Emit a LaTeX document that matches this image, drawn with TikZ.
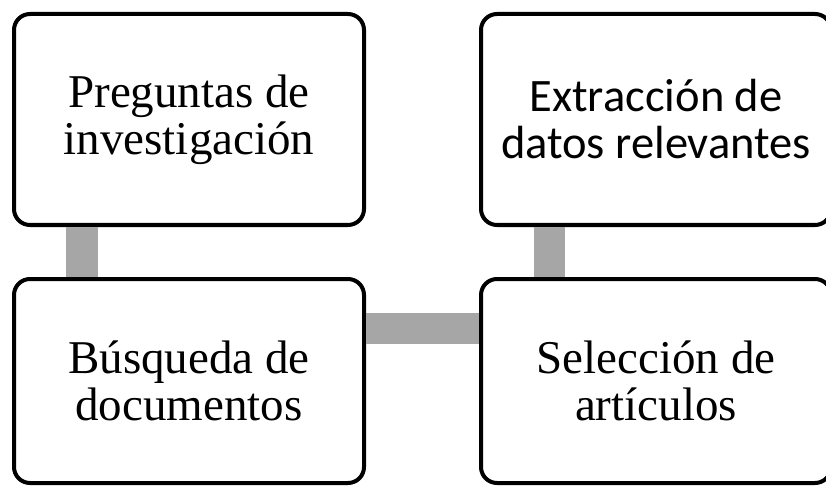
\documentclass[tikz,border=0pt]{standalone}
\usepackage{fontspec}
\setmainfont{Liberation Serif}
\newfontfamily\calibrifont{Carlito}
\usetikzlibrary{calc}
\definecolor{bargray}{HTML}{A6A6A6}
\tikzset{
  stepbox/.style={draw=black, line width=4pt, rounded corners=16pt, fill=white,
    minimum width=350pt, minimum height=211pt, align=center, inner sep=0pt,
    font=\fontsize{47}{47}\selectfont},
  lowbox/.style={stepbox, minimum height=204pt},
  sansbox/.style={stepbox, font=\calibrifont\fontsize{46.5}{47}\selectfont},
  bar/.style={draw=bargray, line width=31.5pt},
}
\begin{document}
\begin{tikzpicture}[x=1pt,y=-1pt]
\useasboundingbox (0,0) rectangle (826,486);
\node[stepbox] (b1) at (189,119.5) {Preguntas de\\investigación};
\node[lowbox] (b2) at (189,381) {Búsqueda de\\documentos};
\node[sansbox] (b3) at (656,119.5) {Extracción de\\datos relevantes};
\node[lowbox] (b4) at (656,381) {Selección de\\artículos};
\draw[bar] ($(b1.south west)+(70,0)$) -- ($(b2.north west)+(70,0)$);
\draw[bar] ($(b3.south west)+(70.5,0)$) -- ($(b4.north west)+(70.5,0)$);
\draw[bar] ($(b2.north east)+(0,51.5)$) -- ($(b4.north west)+(0,51.5)$);
\end{tikzpicture}
\end{document}
